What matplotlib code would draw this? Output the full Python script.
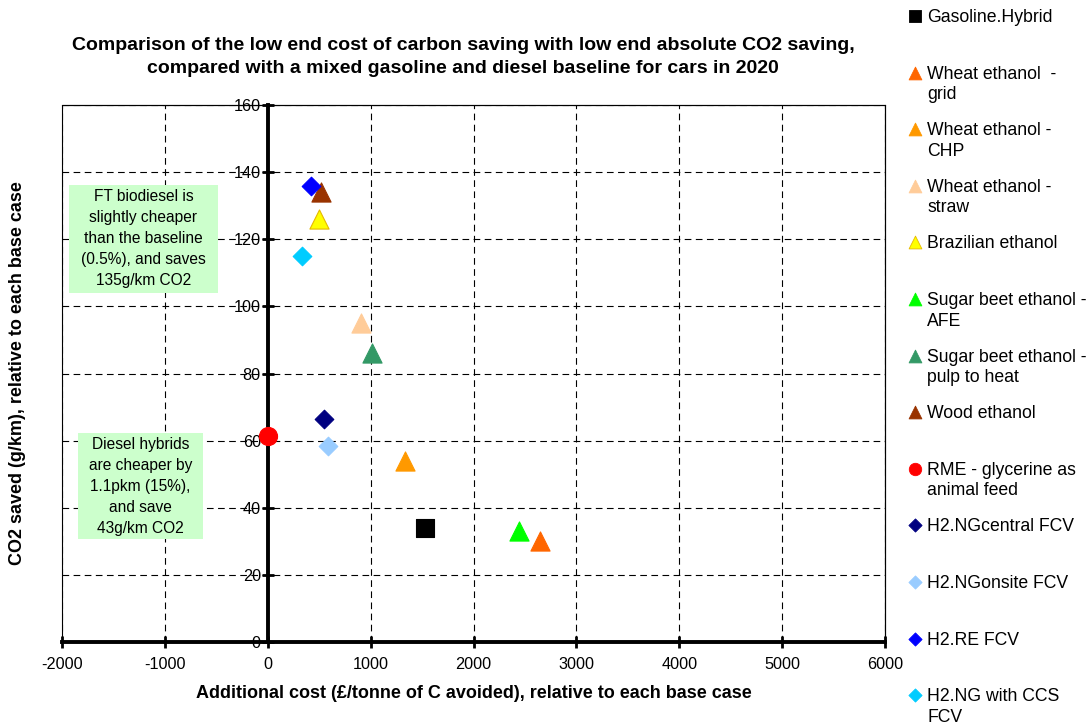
import matplotlib.pyplot as plt
from matplotlib.patches import Rectangle

plt.rcParams['font.family'] = ['Liberation Sans', 'DejaVu Sans']
plt.rcParams['axes.unicode_minus'] = False

# series
names = ['Gasoline.Hybrid', 'Wheat ethanol  -\ngrid', 'Wheat ethanol -\nCHP',
         'Wheat ethanol -\nstraw', 'Brazilian ethanol', 'Sugar beet ethanol -\nAFE',
         'Sugar beet ethanol -\npulp to heat', 'Wood ethanol',
         'RME - glycerine as\nanimal feed', 'H2.NGcentral FCV', 'H2.NGonsite FCV',
         'H2.RE FCV', 'H2.NG with CCS\nFCV']
cost = [1530, 2650, 1330, 905, 495, 2440, 1010, 515, 0, 550, 585, 420, 335]
co2_saved = [34, 30, 54, 95, 126, 33, 86, 134, 61.5, 66.5, 58.5, 136, 115]
colors = ['#000000', '#FF6600', '#FF9900', '#FFCC99', '#FFFF00', '#00FF00',
          '#339966', '#993300', '#FF0000', '#000080', '#99CCFF', '#0000FF', '#00CCFF']
edges = ['#000000', '#FF6600', '#FF9900', '#FFCC99', '#E6B800', '#00FF00',
         '#339966', '#993300', '#FF0000', '#000080', '#99CCFF', '#0000FF', '#00CCFF']
markers = ['s', '^', '^', '^', '^', '^', '^', '^', 'o', 'D', 'D', 'D', 'D']

x_ticks = [-2000, -1000, 0, 1000, 2000, 3000, 4000, 5000, 6000]
y_ticks = [0, 20, 40, 60, 80, 100, 120, 140, 160]

plot_size = {'s': 150, '^': 190, 'o': 170, 'D': 90}
legend_size = {'s': 70, '^': 85, 'o': 80, 'D': 45}

fig = plt.figure(figsize=(10.9, 7.28), dpi=100)
ax = fig.add_axes([62 / 1090, 86 / 728, 823 / 1090, 537 / 728])

for xv, yv, c, e, m in zip(cost, co2_saved, colors, edges, markers):
    ax.scatter(xv, yv, s=plot_size[m], marker=m, color=c, edgecolors=e,
               linewidths=0.8, zorder=5, clip_on=False)

ax.set_xlim(-2000, 6000)
ax.set_ylim(0, 160)
ax.set_xticks(x_ticks)
ax.set_yticks(y_ticks)
ax.grid(True, color='black', linestyle=(0, (6, 4)), linewidth=0.8)
ax.set_axisbelow(True)

ax.spines['left'].set_position(('data', 0))
ax.spines['left'].set_linewidth(2.8)
ax.spines['bottom'].set_linewidth(2.8)
ax.spines['top'].set_linewidth(0.8)
ax.spines['right'].set_linewidth(0.8)
ax.add_patch(Rectangle((0, 0), 1, 1, transform=ax.transAxes, fill=False,
                       edgecolor='black', linewidth=0.8, zorder=1, clip_on=False))
ax.tick_params(axis='both', direction='inout', length=8, width=2, labelsize=11.7)
ax.tick_params(axis='y', pad=1)
ax.tick_params(axis='x', pad=7)

ax.set_xlabel('Additional cost (£/tonne of C avoided), relative to each base case',
              fontsize=13, fontweight='bold', labelpad=9)
fig.text(18 / 1090, (728 - 373) / 728, 'CO2 saved (g/km), relative to each base case',
         rotation=90, fontsize=13, fontweight='bold', ha='center', va='center')

fig.text(463 / 1090, 1 - 57 / 728,
         'Comparison of the low end cost of carbon saving with low end absolute CO2 saving,\n'
         'compared with a mixed gasoline and diesel baseline for cars in 2020',
         fontsize=14, fontweight='bold', ha='center', va='center', linespacing=1.5)

# green note boxes
ax.add_patch(Rectangle((0.0085, 0.650), 0.181, 0.201, transform=ax.transAxes,
                       facecolor='#CCFFCC', edgecolor='none', zorder=3))
ax.text(0.099, 0.7505, 'FT biodiesel is\nslightly cheaper\nthan the baseline\n(0.5%), and saves\n135g/km CO2',
        transform=ax.transAxes, ha='center', va='center', fontsize=11.2,
        linespacing=1.5, zorder=4)
ax.add_patch(Rectangle((0.0194, 0.1918), 0.152, 0.197, transform=ax.transAxes,
                       facecolor='#CCFFCC', edgecolor='none', zorder=3))
ax.text(0.0954, 0.2905, 'Diesel hybrids\nare cheaper by\n1.1pkm (15%),\nand save\n43g/km CO2',
        transform=ax.transAxes, ha='center', va='center', fontsize=11.2,
        linespacing=1.5, zorder=4)

# legend column on the right, one slot per series
lax = fig.add_axes([895 / 1090, 0, 195 / 1090, 1])
lax.set_xlim(895, 1090)
lax.set_ylim(728, 0)
lax.axis('off')
for i, (c, e, m, n) in enumerate(zip(colors, edges, markers, names)):
    yy = 16 + 56.6 * i
    lax.scatter(915, yy, s=legend_size[m], marker=m, color=c, edgecolors=e,
                linewidths=0.6, clip_on=False)
    lax.text(927, yy - 7, n, fontsize=12.7, va='top', ha='left', linespacing=1.28)

fig.savefig('out.png', dpi=100)
